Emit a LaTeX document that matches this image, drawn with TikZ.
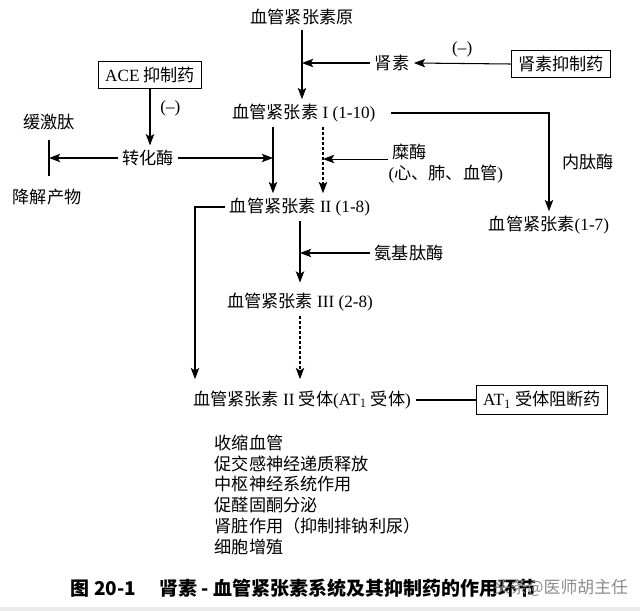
\documentclass[tikz,border=0pt]{standalone}
\usepackage{fontspec}
\setmainfont{Noto Sans CJK SC}
\newfontfamily\latfont{Liberation Serif}
\usetikzlibrary{arrows.meta,positioning}

\begin{document}
\begin{tikzpicture}[x=0.025cm,y=-0.025cm,line width=0.75pt,
    every node/.style={font=\fontsize{12.2pt}{14pt}\selectfont,inner sep=3pt},
    drug/.style={draw,line width=0.75pt,inner xsep=5pt,inner ysep=4pt},
    arr/.style={-{Stealth[length=8pt,width=6pt,inset=1.8pt]}},
    dsh/.style={arr,dash pattern=on 2pt off 1.6pt}]
    \useasboundingbox (0,0) rectangle (640,611);
    \fill [black!8] (0,607) rectangle (640,611);

    \node (agt) at (302,17) {血管紧张素原};
    \node (renin) at (392,63) {肾素};
    \node [drug] (rinh) at (561,64) {肾素抑制药};
    \node [drug] (ace) at (150,75) {{\latfont ACE} 抑制药};
    \node (ang1) at (304,113) {血管紧张素{\latfont\ I\ (1-10)}};
    \node (brady) at (49,122) {缓激肽};
    \node (conv) at (148,158) {转化酶};
    \node (degr) at (47,197) {降解产物};
    \node [anchor=west] (chym) at (388,152) {糜酶};
    \node [anchor=west] (organ) at (384,174) {{\latfont (}心、肺、血管{\latfont )}};
    \node (ang2) at (300,207) {血管紧张素{\latfont\ II\ (1-8)}};
    \node (ang17) at (549,225) {血管紧张素{\latfont (1-7)}};
    \node (amino) at (409,253) {氨基肽酶};
    \node (ang3) at (300,302) {血管紧张素{\latfont\ III\ (2-8)}};
    \node (rec) at (302,400) {血管紧张素{\latfont\ II\ }受体{\latfont (AT$_1$} 受体{\latfont )}};
    \node [drug] (atb) at (542,400) {{\latfont AT$_1$} 受体阻断药};

    \coordinate (sl) at (273,0);
    \coordinate (dl) at (323,0);
    \coordinate (ll) at (195,0);
    \coordinate (chy) at ([yshift=-5pt]chym.west);

    \draw [arr] (agt.south) -- (agt.south |- ang1.north);
    \draw [arr] (renin.west) -- (agt.south |- renin.west);
    \draw [arr] (rinh.west) -- (renin.east)
        node [midway,above=1pt] {\latfont (–)};
    \draw [arr] (ace.south) -- (ace.south |- conv.north)
        node [pos=0.35,right=4pt] {\latfont (–)};
    \draw ([yshift=-4pt]brady.south) -- ([yshift=6pt]brady.south |- degr.north);
    \draw [arr] (conv.west) -- (brady.south |- conv.west);
    \draw [arr] (conv.east) -- (sl |- conv.east);
    \draw [arr] (sl |- ang1.south) -- (sl |- ang2.north);
    \draw [dsh] (dl |- ang1.south) -- (dl |- ang2.north);
    \draw [arr] (chy) -- (dl |- chy);
    \draw [arr,shorten <=8pt] (ang1.east) -| (ang17.north)
        node [pos=0.75,right=6pt] {内肽酶};
    \draw [arr,shorten >=5pt] (ang2.west) -| (ll |- rec.north);
    \draw [arr,shorten >=4pt] (ang2.south) -- (ang3.north);
    \draw [arr] (amino.west) -- (ang2.south |- amino.west);
    \draw [dsh,shorten >=5pt] (ang3.south) -- (ang3.south |- rec.north);
    \draw (rec.east) -- (atb.west);

    \foreach \txt [count=\i] in {收缩血管,促交感神经递质释放,中枢神经系统作用,
        促醛固酮分泌,肾脏作用（抑制排钠利尿）,细胞增殖}
        \node [anchor=west] (eff\i) at (210,422+20.8*\i) {\txt};

    \node [anchor=west,font=\fontsize{13.5pt}{15pt}\selectfont\bfseries] (cap) at (66,588)
        {图 20-1\quad\ 肾素 - 血管紧张素系统及其抑制药的作用环节};
    \node [text=black!45,font=\fontsize{12pt}{13pt}\selectfont] (wm) at (561,588) {头条@医师胡主任};
\end{tikzpicture}
\end{document}
